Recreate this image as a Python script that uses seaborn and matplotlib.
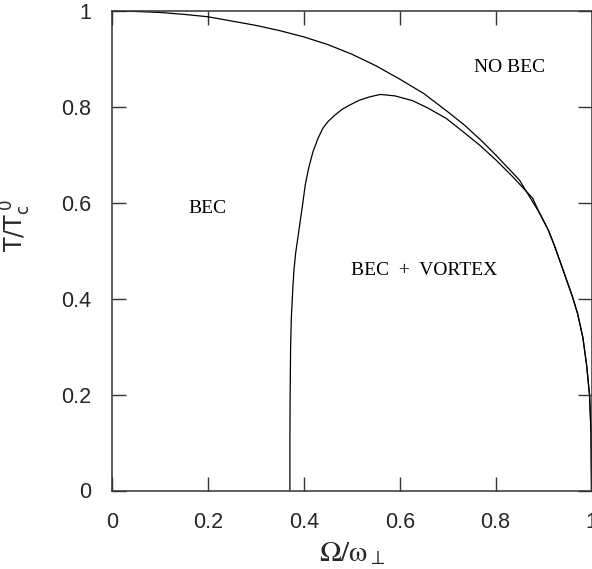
import matplotlib
matplotlib.use("Agg")
import matplotlib.pyplot as plt
import seaborn as sns
import pandas as pd

# Outer boundary (BEC / NO BEC)
outer_omega = [0.0, 0.05, 0.1, 0.15, 0.2, 0.25, 0.3, 0.35, 0.4, 0.45, 0.5, 0.55,
               0.6, 0.65, 0.7, 0.735, 0.77, 0.8, 0.836, 0.85, 0.87, 0.892, 0.91,
               0.923, 0.935, 0.947, 0.96, 0.971, 0.982, 0.99, 0.996, 0.999, 1.0]
outer_T = [1.0, 0.999, 0.997, 0.993, 0.988, 0.979, 0.970, 0.959, 0.946, 0.930, 0.910, 0.886,
           0.858, 0.828, 0.790, 0.762, 0.730, 0.700, 0.662, 0.647, 0.614, 0.578, 0.543,
           0.510, 0.476, 0.442, 0.405, 0.369, 0.319, 0.260, 0.198, 0.120, 0.0]

# Inner boundary (BEC + VORTEX region)
inner_omega = [0.371, 0.371, 0.3715, 0.3725, 0.374, 0.377, 0.3795, 0.383, 0.388, 0.393, 0.398,
               0.403, 0.41, 0.419, 0.429, 0.44, 0.451, 0.465, 0.48, 0.496, 0.516,
               0.5375, 0.56, 0.59, 0.627, 0.66, 0.697, 0.73, 0.767, 0.8, 0.836, 0.877,
               0.892, 0.91, 0.923, 0.935, 0.947, 0.96, 0.971, 0.982, 0.99, 0.996, 0.999, 1.0]
inner_T = [0.0, 0.1, 0.2, 0.3, 0.36, 0.42, 0.46, 0.495, 0.53, 0.565, 0.60,
           0.637, 0.672, 0.706, 0.733, 0.756, 0.770, 0.783, 0.795, 0.804, 0.814,
           0.821, 0.826, 0.823, 0.813, 0.797, 0.776, 0.750, 0.720, 0.690, 0.654, 0.610,
           0.578, 0.543, 0.510, 0.476, 0.442, 0.405, 0.369, 0.319, 0.260, 0.198, 0.120, 0.0]

region_labels = ["BEC", "NO BEC", "BEC  +  VORTEX"]
region_x = [0.20, 0.83, 0.65]
region_y = [0.589, 0.883, 0.459]

tick_vals = [0, 0.2, 0.4, 0.6, 0.8, 1]
tick_labels = ["0", "0.2", "0.4", "0.6", "0.8", "1"]

sns.set_theme(style="ticks")
plt.rcParams["font.family"] = ["Liberation Sans", "DejaVu Sans"]

df_outer = pd.DataFrame({"omega": outer_omega, "T": outer_T})
df_inner = pd.DataFrame({"omega": inner_omega, "T": inner_T})

fig = plt.figure(figsize=(5.92, 5.69), dpi=100)
ax = fig.add_axes([112 / 592, 1 - 490.5 / 569, 479.5 / 592, 479.5 / 569])

sns.lineplot(data=df_outer, x="omega", y="T", ax=ax, color="black",
             linewidth=0.9, sort=False, estimator=None)
sns.lineplot(data=df_inner, x="omega", y="T", ax=ax, color="black",
             linewidth=0.9, sort=False, estimator=None)

ax.set_xlim(0, 1)
ax.set_ylim(0, 1)
ax.set_xticks(tick_vals)
ax.set_xticklabels(tick_labels)
ax.set_yticks(tick_vals)
ax.set_yticklabels(tick_labels)
ax.tick_params(direction="in", length=10, width=1.0, color="#333333",
               top=True, right=True, labelsize=15.5, pad=15)
ax.tick_params(axis="x", pad=15.5)
for s in ax.spines.values():
    s.set_linewidth(1.1)
    s.set_color("#333333")
    s.set_visible(True)

for lab, x, y in zip(region_labels, region_x, region_y):
    ax.text(x, y, lab, ha="center", va="center", fontsize=14,
            family="Liberation Serif", color="black")

ax.set_xlabel(r"$\mathrm{\Omega/\omega_{\perp}}$", fontsize=21,
              math_fontfamily="stix", va="center")
ax.xaxis.set_label_coords(0.5, -0.13)
ax.set_ylabel(r"$\mathsf{T/T_c^{\;0}}$", fontsize=17, math_fontfamily="dejavusans")
ax.yaxis.set_label_coords(-0.165, 0.553)

fig.savefig("out.png", dpi=100)
